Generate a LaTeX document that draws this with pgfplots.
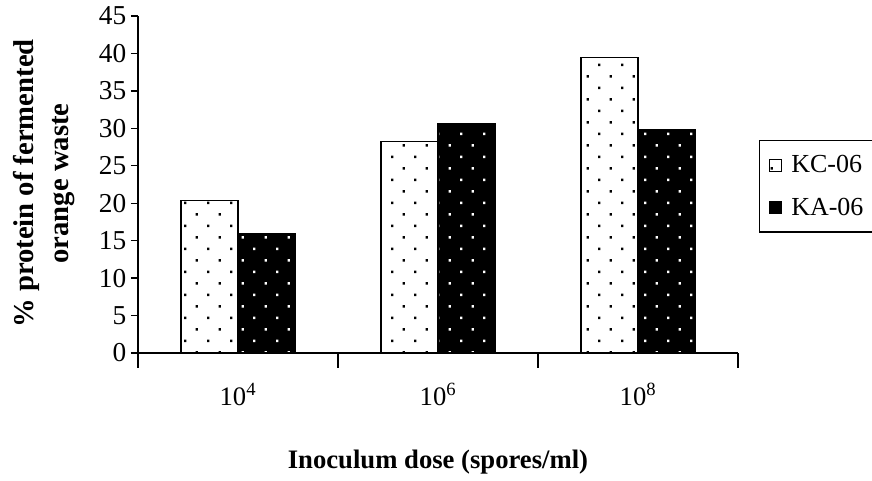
\documentclass[border=0pt]{standalone}
\usepackage{pgfplots}
\pgfplotsset{compat=1.18}
\usepackage{fontspec}
\setmainfont{Liberation Serif}
\usetikzlibrary{patterns}
\pgfdeclarepatternformonly{sparsedots}{\pgfpoint{-1pt}{-1pt}}{\pgfpoint{18.25pt}{18.25pt}}{\pgfpoint{17.25pt}{17.25pt}}{%
  \pgfpathrectangle{\pgfpoint{0pt}{0pt}}{\pgfpoint{1.7pt}{1.7pt}}%
  \pgfpathrectangle{\pgfpoint{8.625pt}{8.625pt}}{\pgfpoint{1.7pt}{1.7pt}}%
  \pgfusepath{fill}}
\pgfplotstableread{
x KC KA
1 20.4 15.9
2 28.2 30.6
3 39.5 29.8
}\datatable
\begin{document}
\begin{tikzpicture}
\path[use as bounding box] (0,0) rectangle (654pt,360pt);
\begin{axis}[
  at={(103.5pt,95.25pt)}, anchor=south west,
  scale only axis, width=450pt, height=252.75pt,
  xmin=0.5, xmax=3.5, ymin=0, ymax=45,
  axis x line*=bottom, axis y line*=left,
  axis line style={line width=1.1pt},
  every tick/.style={black, line width=1pt},
  tick align=outside,
  major tick length=5.25pt,
  ytick={0,5,...,45},
  xtick={0.5,1.5,2.5,3.5},
  xticklabels={10\textsuperscript{4},10\textsuperscript{6},10\textsuperscript{8},{}},
  xtick style={/pgfplots/major tick length=11pt},
  xticklabel style={xshift=75pt, yshift=-14pt},
  /pgf/number format/assume math mode=true,
  yticklabel style={font=\fontsize{20.5}{22}\selectfont},
  xticklabel style={font=\fontsize{20}{22}\selectfont},
  xlabel={Inoculum dose (spores/ml)},
  xlabel style={font=\bfseries\fontsize{20}{22}\selectfont, at={(axis description cs:0.5,-0.323)}, anchor=center},
  ylabel={\% protein of fermented\\orange waste},
  ylabel style={font=\bfseries\fontsize{21.5}{26}\selectfont, align=center, at={(axis description cs:-0.157,0.503)}, anchor=center},
  legend style={at={(axis description cs:1.035,0.632)}, anchor=north west, draw=black, line width=1pt,
    font=\fontsize{19.5}{21}\selectfont, row sep=13.5pt, column sep=5pt, inner xsep=7pt, inner ysep=9pt},
  legend cell align=left,
  legend image code/.code={\draw[#1, line width=0.7pt] (0pt,-4.5pt) rectangle (9pt,4.5pt);},
]
\addplot[ybar, bar width=0.285, bar shift=-0.1425, draw=black, line width=0.9pt, fill=white, pattern=sparsedots, pattern color=black] table[x=x, y=KC] {\datatable};
\addlegendentry{KC-06\hspace*{22pt}}
\addplot[ybar, bar width=0.285, bar shift=0.1425, draw=black, line width=0.9pt, fill=black, postaction={pattern=sparsedots, pattern color=white}] table[x=x, y=KA] {\datatable};
\addlegendentry{KA-06\hspace*{22pt}}
\end{axis}
\end{tikzpicture}
\end{document}
